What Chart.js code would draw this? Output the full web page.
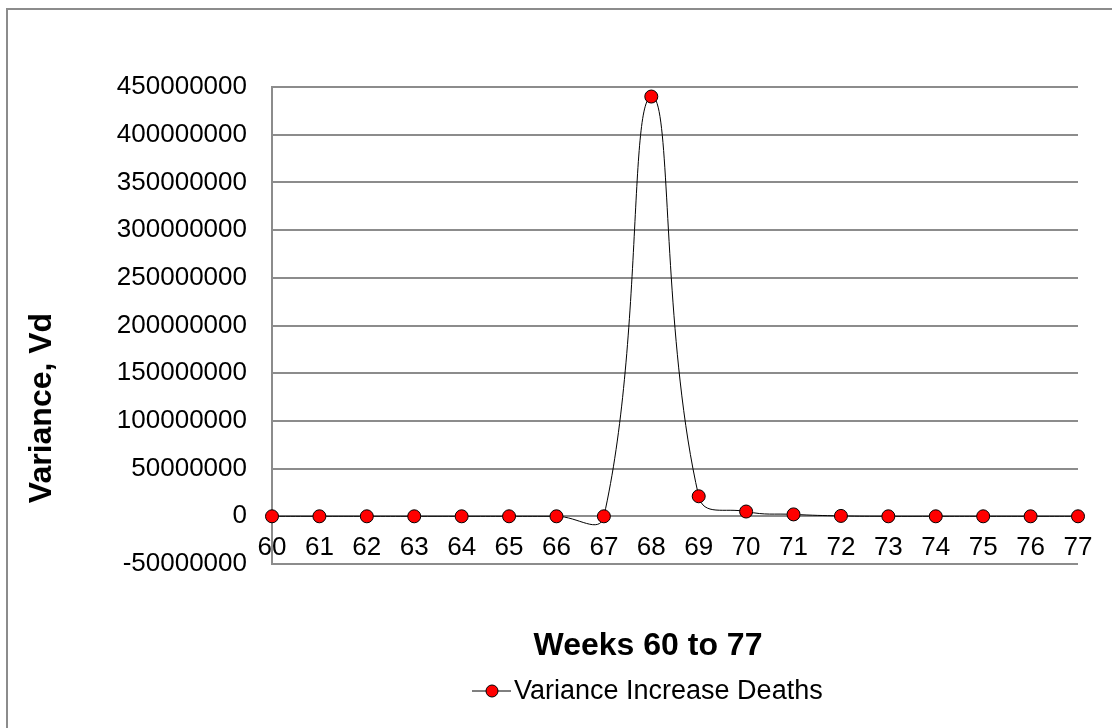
<!DOCTYPE html>
<html>
<head>
<meta charset="utf-8">
<script src="https://cdn.jsdelivr.net/npm/chart.js@4.4.1/dist/chart.umd.min.js"></script>
<style>
  html, body { margin: 0; padding: 0; background: #fff; }
  #frame {
    position: absolute; left: 6px; top: 8px; width: 1200px; height: 800px;
    border-left: 2px solid #8c8c8c; border-top: 2px solid #8c8c8c;
  }
  #wrap { position: absolute; left: 0; top: 0; width: 1112px; height: 728px; }
</style>
</head>
<body>
<div id="frame"></div>
<div id="wrap"><canvas id="myChart" width="1112" height="728"></canvas></div>
<script>
const weeks = ['60', '61', '62', '63', '64', '65', '66', '67', '68',
               '69', '70', '71', '72', '73', '74', '75', '76', '77'];
const varianceDeaths = [0, 0, 0, 0, 0, 0, 0, 0, 440000000,
                        21000000, 5000000, 2000000, 400000, 0, 0, 0, 0, 0];
const yMin = -50000000;
const yMax = 450000000;
const yStep = 50000000;

const SERIES_NAME = 'Variance Increase Deaths';
const X_TITLE = 'Weeks 60 to 77';
const Y_TITLE = 'Variance, Vd';
const FONT = "'Liberation Sans', Arial, sans-serif";
const GRID = '#8c8c8c';

// axis titles + legend placed like the Excel layout (not centred on the plot)
const outerText = {
    id: 'outerText',
    afterDraw(chart) {
        const ctx = chart.ctx;
        ctx.save();
        ctx.fillStyle = '#000';
        ctx.textBaseline = 'middle';
        ctx.textAlign = 'center';
        ctx.font = 'bold 32px ' + FONT;
        ctx.fillText(X_TITLE, 648, 646);

        ctx.save();
        ctx.translate(42, 408);
        ctx.rotate(-Math.PI / 2);
        ctx.fillText(Y_TITLE, 0, 0);
        ctx.restore();

        // legend entry
        ctx.strokeStyle = '#000';
        ctx.lineWidth = 1;
        ctx.beginPath();
        ctx.moveTo(472, 691);
        ctx.lineTo(511, 691);
        ctx.stroke();
        ctx.beginPath();
        ctx.arc(492, 691, 6, 0, Math.PI * 2);
        ctx.fillStyle = '#ff0000';
        ctx.fill();
        ctx.stroke();
        ctx.fillStyle = '#000';
        ctx.textAlign = 'left';
        ctx.font = '27px ' + FONT;
        ctx.fillText(SERIES_NAME, 514, 692);
        ctx.restore();
    }
};

new Chart(document.getElementById('myChart'), {
    type: 'line',
    data: {
        labels: weeks,
        datasets: [{
            label: SERIES_NAME,
            data: varianceDeaths,
            borderColor: '#000',
            borderWidth: 1,
            tension: 0.45,
            pointRadius: 6.5,
            pointBackgroundColor: '#ff0000',
            pointBorderColor: '#000',
            pointBorderWidth: 1,
            clip: false
        }]
    },
    options: {
        responsive: false,
        animation: false,
        layout: { padding: { left: 20, top: 87, right: 34, bottom: 164 } },
        plugins: {
            legend: { display: false },
            title: { display: false },
            tooltip: { enabled: false }
        },
        scales: {
            x: {
                position: { y: 0 },
                offset: false,
                grid: { display: false, drawTicks: false },
                border: { display: true, color: GRID, width: 2 },
                ticks: {
                    color: '#000',
                    font: { family: FONT, size: 26 },
                    padding: 16,
                    maxRotation: 0,
                    autoSkip: false
                }
            },
            y: {
                min: yMin,
                max: yMax,
                afterFit: s => { s.width = 252; },
                grid: { color: GRID, lineWidth: 2, drawTicks: false },
                border: { display: true, color: GRID, width: 2 },
                ticks: {
                    stepSize: yStep,
                    color: '#000',
                    padding: 25,
                    font: { family: FONT, size: 26 },
                    callback: v => String(v)
                }
            }
        }
    },
    plugins: [outerText]
});
</script>
</body>
</html>
